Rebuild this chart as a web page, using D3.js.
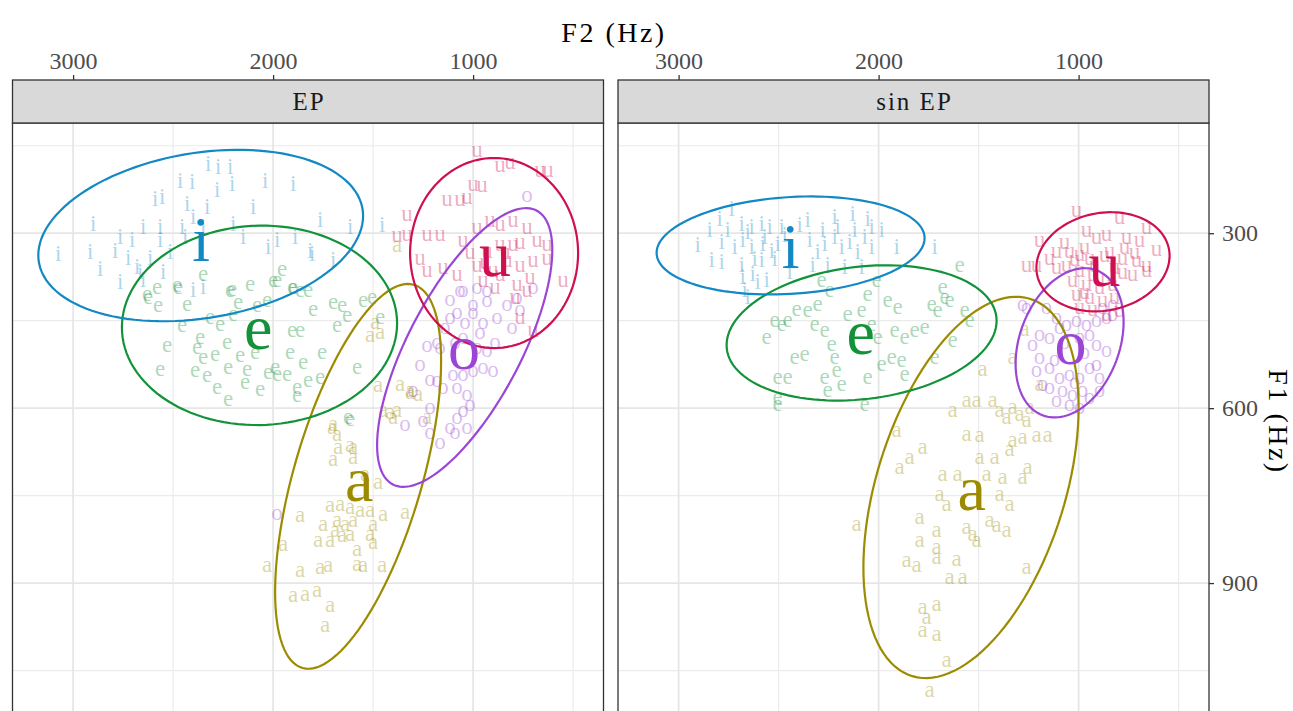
<!DOCTYPE html>
<html>
<head>
<meta charset="utf-8">
<script src="https://cdn.jsdelivr.net/npm/d3@7"></script>
<style>
  body { margin: 0; background: #fff; }
  text { font-family: "Liberation Serif", "Times New Roman", serif; }
</style>
</head>
<body>
<svg id="chart" width="1293" height="711"></svg>
<script>
'use strict';

// vowel order used by every array below: a, e, i, o, u
const vowels = ["a", "e", "i", "o", "u"];
const facets = ["EP", "sin EP"];
const f2Ticks = [3000, 2000, 1000];
const f1Ticks = [300, 600, 900];
const f2Minor = [2500, 1500, 500];
const f1Minor = [150, 450, 750, 1050];

// tokens, [F2, F1] in Hz -- EP
const epA = [[1705,636],[1675,670],[1615,667],[1700,691],[1600,687],[1540,717],[1475,730],[1715,770],[1665,768],[1615,773],
  [1565,778],[1515,778],[1865,787],[1750,802],[1680,795],[1640,802],[1600,795],[1690,812],[1615,819],[1500,802],
  [1450,785],[1340,782],[1775,830],[1715,830],[1655,821],[1515,819],[1500,833],[1950,836],[1580,845],[1765,876],
  [1725,873],[1865,881],[1580,871],[1550,873],[1455,873],[2030,873],[1900,924],[1840,922],[1780,915],[1715,941],
  [1740,975],[1415,610],[1380,607],[1315,576],[1475,564],[1515,478],[1465,473],[1490,456],[1315,573],[1365,562],
  [1275,579],[1450,607],[1400,619],[1230,619],[1700,631],[1680,648],[1600,670],[1380,324]];
const epE = [[2630,408],[2575,427],[2475,396],[2430,425],[2530,495],[2565,537],[2455,461],[2365,482],[2380,499],[2350,516],
  [2390,538],[2330,547],[2280,567],[2225,588],[2290,511],[2230,490],[2265,459],[2200,442],[2175,422],[2205,399],
  [2115,391],[2225,533],[2165,513],[2130,537],[2080,427],[2030,418],[2000,384],[1955,365],[1905,396],[1865,401],
  [1825,401],[2025,542],[1980,545],[1930,545],[1880,567],[1850,525],[1825,555],[1905,470],[1865,470],[1800,434],
  [1755,507],[1700,422],[1655,427],[1630,444],[1680,461],[1580,533],[1550,418],[1505,413],[1465,447],[2480,393],
  [2580,396],[2625,413],[2350,374],[2215,401],[1980,384],[1900,396],[1615,622],[1880,581],[1625,619],
  [2140,559],[2065,571],[1990,533],[2090,507],[1915,507],[1765,550],[2315,447]];
const epI = [[3075,339],[2915,336],[2900,288],[2790,333],[2865,365],[2725,345],[2705,315],[2680,362],[2650,293],[2590,245],
  [2555,242],[2565,293],[2565,315],[2550,370],[2650,384],[2465,213],[2405,216],[2430,254],[2400,276],[2455,293],
  [2330,259],[2280,230],[2325,185],[2275,190],[2215,190],[2205,219],[2350,293],[2200,288],[2150,310],[2100,259],
  [2040,213],[2025,327],[1900,219],[1980,315],[1890,310],[1805,339],[2350,396],[2400,401],[1455,290],[1615,293],
  [1765,281],[1815,333],[1700,350],[2765,310],[2615,345],[2515,336],[2440,310],[2665,370],[2765,387]];
const epO = [[1180,490],[1230,495],[1265,528],[1300,573],[1215,554],[1180,555],[1150,567],[1100,545],[1050,545],[1000,538],
  [950,533],[900,538],[1080,567],[1030,579],[1015,597],[1050,607],[1080,619],[1115,636],[1030,636],[1215,602],
  [1250,624],[1340,631],[1215,645],[1165,662],[1090,645],[980,499],[930,504],[1050,482],[1080,439],[1000,439],
  [950,456],[880,447],[930,418],[1115,417],[1050,401],[980,396],[830,425],[765,434],[700,396],[805,465],
  [730,238],[1065,401],[1000,425],[930,401],[1115,447],[1165,499],[780,413],[1980,783],
  [1140,465],[1040,456],[965,473],[1090,490],[890,490]];
const epU = [[980,161],[815,182],[665,195],[625,195],[865,187],[1000,219],[955,221],[1130,245],[1065,245],[1030,242],
  [1330,271],[1380,307],[1330,305],[1230,305],[1165,305],[1050,315],[980,293],[915,281],[865,288],[800,281],
  [730,293],[680,315],[630,322],[1265,345],[1230,367],[1150,362],[1080,374],[980,357],[900,367],[830,350],
  [765,357],[700,350],[630,345],[550,384],[780,391],[730,401],[950,384],[865,374],[700,470],[765,447],
  [865,322],[800,322],[930,333],[1015,336],[940,353],[840,336],[765,319],[715,379],[890,396],[790,413]];

// tokens, [F2, F1] in Hz -- sin EP
const sinA = [[1630,607],[1560,590],[1510,590],[1430,590],[1395,607],[1360,619],[1330,602],[1295,614],[1260,624],[1245,602],
  [1910,641],[1560,648],[1495,650],[1330,658],[1280,653],[1210,650],[1155,650],[1895,705],[1845,687],[1780,670],
  [1495,687],[1420,687],[1345,674],[1680,717],[1605,717],[1460,717],[1380,722],[1280,722],[1255,705],[1695,751],
  [1660,768],[1395,751],[1345,768],[1795,790],[1710,813],[1560,807],[1530,819],[1445,795],[1410,804],[1360,813],
  [1510,830],[1795,830],[1710,842],[1860,864],[1810,873],[1710,859],[1610,862],[1645,893],[1580,893],[1260,876],
  [2110,802],[1780,944],[1710,939],[1760,962],[1780,984],[1710,991],[1660,1035],[1745,1087],[1480,537],[1330,516],
  [1270,468],[1195,562]];
const sinE = [[2560,482],[2505,550],[2505,585],[2455,550],[2420,516],[2370,511],[2455,453],[2410,434],[2520,453],[2485,459],
  [2355,435],[2305,425],[2285,384],[2245,401],[2320,459],[2270,470],[2235,494],[2220,516],[2210,538],[2270,550],
  [2185,562],[2255,573],[2155,442],[2085,435],[2035,459],[2005,482],[2055,408],[2010,384],[1985,528],[2055,550],
  [2070,597],[1955,418],[1905,430],[1920,470],[1870,482],[1885,521],[1870,545],[1935,516],[1820,470],[1770,465],
  [1735,425],[1705,435],[1680,396],[1670,413],[1720,516],[2505,597],[1595,358],[1645,418],[1570,435],[1545,453],
  [1630,487]];
const sinI = [[2905,324],[2845,298],[2835,350],[2795,279],[2785,319],[2735,262],[2785,353],[2685,288],[2680,315],[2685,357],
  [2680,379],[2635,293],[2635,327],[2630,374],[2585,288],[2580,322],[2585,350],[2545,293],[2535,333],[2560,384],
  [2485,293],[2505,322],[2355,281],[2345,315],[2330,357],[2280,298],[2270,322],[2220,276],[2220,310],[2185,327],
  [2170,362],[2130,271],[2120,298],[2085,362],[2070,310],[2035,293],[1985,298],[2035,327],[1910,327],[1720,327],
  [2670,401],[2655,413],[2655,302],[2620,348],[2605,387],[2570,310],[2520,348],[2470,307],[2445,370],[2395,290],
  [2305,336],[2255,358],[2205,293],[2145,319],[2105,336],[2055,279],[2755,297],[2720,327]];
const sinO = [[1280,425],[1160,430],[1110,447],[1060,459],[1010,453],[960,459],[910,453],[860,447],[830,442],[1195,477],
  [1145,482],[995,482],[945,477],[910,494],[860,504],[1230,494],[1195,516],[1210,538],[1145,533],[1095,550],
  [1045,545],[995,550],[945,533],[910,528],[895,550],[1145,567],[1080,573],[1030,579],[980,573],[1110,590],
  [1045,597],[995,602],[895,573],[1180,562],[1260,430],[830,425],[880,430],
  [1070,490],[970,507],[1120,519],[1020,559],[945,585],[1095,465]];
const sinU = [[1010,264],[795,276],[660,293],[960,298],[910,310],[860,305],[760,310],[695,315],[610,331],[1195,315],
  [1110,333],[1045,333],[995,339],[945,345],[845,333],[780,345],[710,350],[660,357],[1260,358],[1210,358],
  [1110,362],[1060,357],[995,367],[930,374],[780,370],[730,374],[660,367],[1030,384],[960,391],[895,396],
  [830,391],[1010,408],[945,413],[880,418],[995,430],[930,434],[860,442],[795,435],
  [1070,319],[1020,348],[970,327],[920,358],[870,341],[820,362],[770,327],[895,379],[970,405],[820,413],
  [720,336],[1145,345]];

// vowel means (Hz), order a e i o u
const epMeanF2 = [1570, 2075, 2360, 1045, 890];
const epMeanF1 = [735, 475, 324, 509, 350];
const sinMeanF2 = [1535, 2090, 2440, 1040, 870];
const sinMeanF1 = [751, 483, 336, 500, 367];

// ellipses: centre, half range on each axis (Hz) and correlation, order a e i o u
const epEllF2 = [1575, 2068, 2362, 1042, 895];
const epEllF1 = [717, 458, 304, 496, 334];
const epEllHalfF2 = [415, 688, 812, 438, 420];
const epEllHalfF1 = [330, 171, 147, 239, 163];
const epEllR = [0.6, 0.02, 0.23, 0.7, 0];
const sinEllF2 = [1538, 2085, 2440, 1045, 878];
const sinEllF1 = [736, 471, 321, 488, 349];
const sinEllHalfF2 = [538, 675, 670, 270, 333];
const sinEllHalfF1 = [327, 116, 84, 128, 85];
const sinEllR = [0.42, 0.18, 0.15, 0.28, 0.12];

const colour = d3.scaleOrdinal()
    .domain(vowels)
    .range(["#9c8b00", "#12933a", "#1288c4", "#9b45d6", "#cf1050"]);

const panels = [
    { name: facets[0], tokens: [epA, epE, epI, epO, epU], meanF2: epMeanF2, meanF1: epMeanF1,
      ell: [epEllF2, epEllF1, epEllHalfF2, epEllHalfF1, epEllR] },
    { name: facets[1], tokens: [sinA, sinE, sinI, sinO, sinU], meanF2: sinMeanF2, meanF1: sinMeanF1,
      ell: [sinEllF2, sinEllF1, sinEllHalfF2, sinEllHalfF1, sinEllR] },
];

const panelW = 591;
const panelTop = 123;
const panelBottom = 758;
const stripTop = 80;
const panelX = [12.5, 618];

const x = d3.scaleLinear().domain([3303, 348]).range([0, panelW]);
const y = d3.scaleLinear().domain([111, 1200]).range([panelTop, panelBottom]);

const svg = d3.select("#chart");
svg.append("rect").attr("width", 1293).attr("height", 711).attr("fill", "#fff");

svg.append("defs").append("clipPath").attr("id", "panelClip")
    .append("rect").attr("x", 0).attr("y", panelTop).attr("width", panelW).attr("height", panelBottom - panelTop);

function ellipsePoints(c2, c1, h2, h1, r) {
    const pts = [];
    const s = Math.sqrt(1 - r * r);
    for (let k = 0; k < 120; k++) {
        const t = k / 120 * 2 * Math.PI;
        pts.push([c2 + h2 * Math.cos(t), c1 + h1 * (r * Math.cos(t) + s * Math.sin(t))]);
    }
    return pts;
}

const ellLine = d3.line().x(d => x(d[0])).y(d => y(d[1])).curve(d3.curveLinearClosed);

panels.forEach((p, pi) => {
    const g = svg.append("g").attr("transform", `translate(${panelX[pi]},0)`);

    // grid
    const grid = g.append("g");
    grid.selectAll(".vminor").data(f2Minor).join("line")
        .attr("x1", d => x(d)).attr("x2", d => x(d)).attr("y1", panelTop).attr("y2", panelBottom)
        .attr("stroke", "#ebebeb").attr("stroke-width", 1.2);
    grid.selectAll(".hminor").data(f1Minor).join("line")
        .attr("y1", d => y(d)).attr("y2", d => y(d)).attr("x1", 0).attr("x2", panelW)
        .attr("stroke", "#ebebeb").attr("stroke-width", 1.2);
    grid.selectAll(".vmajor").data(f2Ticks).join("line")
        .attr("x1", d => x(d)).attr("x2", d => x(d)).attr("y1", panelTop).attr("y2", panelBottom)
        .attr("stroke", "#e6e6e6").attr("stroke-width", 1.8);
    grid.selectAll(".hmajor").data(f1Ticks).join("line")
        .attr("y1", d => y(d)).attr("y2", d => y(d)).attr("x1", 0).attr("x2", panelW)
        .attr("stroke", "#e6e6e6").attr("stroke-width", 1.8);

    const inner = g.append("g").attr("clip-path", "url(#panelClip)");

    // tokens
    vowels.forEach((v, vi) => {
        inner.append("g").selectAll("text").data(p.tokens[vi]).join("text")
            .attr("x", d => x(d[0])).attr("y", d => y(d[1]))
            .attr("dy", "0.22em")
            .attr("text-anchor", "middle")
            .attr("font-size", 23)
            .attr("fill", colour(v))
            .attr("fill-opacity", 0.36)
            .text(v);
    });

    // ellipses
    vowels.forEach((v, vi) => {
        const e = p.ell;
        inner.append("path")
            .attr("d", ellLine(ellipsePoints(e[0][vi], e[1][vi], e[2][vi], e[3][vi], e[4][vi])))
            .attr("fill", "none")
            .attr("stroke", colour(v))
            .attr("stroke-width", 2.2);
    });

    // means
    inner.append("g").selectAll("text").data(vowels).join("text")
        .attr("x", (d, i) => x(p.meanF2[i])).attr("y", (d, i) => y(p.meanF1[i]))
        .attr("dy", "0.22em")
        .attr("text-anchor", "middle")
        .attr("font-size", 64)
        .attr("fill", d => colour(d))
        .text(d => d);

    // panel border
    g.append("rect").attr("x", 0).attr("y", panelTop).attr("width", panelW).attr("height", panelBottom - panelTop)
        .attr("fill", "none").attr("stroke", "#333").attr("stroke-width", 1.3);

    // strip
    g.append("rect").attr("x", 0).attr("y", stripTop).attr("width", panelW).attr("height", panelTop - stripTop)
        .attr("fill", "#d9d9d9").attr("stroke", "#333").attr("stroke-width", 1.3);
    g.append("text").attr("x", panelW / 2 + 1).attr("y", (stripTop + panelTop) / 2)
        .attr("dy", "0.34em").attr("text-anchor", "middle")
        .attr("font-size", 25).attr("letter-spacing", 2)
        .attr("fill", "#1a1a1a").text(p.name);

    // top axis
    const ax = g.append("g").attr("transform", `translate(0,${stripTop})`)
        .call(d3.axisTop(x).tickValues(f2Ticks).tickFormat(d3.format("d")).tickSize(5).tickPadding(6));
    ax.select(".domain").remove();
    ax.selectAll("line").attr("stroke", "#333").attr("stroke-width", 1.3);
    ax.selectAll("text").attr("font-size", 24).attr("fill", "#4d4d4d").attr("font-family", null);

    if (pi === 1) {
        const ay = g.append("g").attr("transform", `translate(${panelW},0)`)
            .call(d3.axisRight(y).tickValues(f1Ticks).tickFormat(d3.format("d")).tickSize(5).tickPadding(8));
        ay.select(".domain").remove();
        ay.selectAll("line").attr("stroke", "#333").attr("stroke-width", 1.3);
        ay.selectAll("text").attr("font-size", 24).attr("fill", "#4d4d4d").attr("font-family", null);
    }
});

// axis titles
svg.append("text").attr("x", 614).attr("y", 42).attr("text-anchor", "middle")
    .attr("font-size", 28).attr("letter-spacing", 2.5).attr("fill", "#000").text("F2 (Hz)");
svg.append("text").attr("transform", "translate(1269,422) rotate(90)").attr("text-anchor", "middle")
    .attr("font-size", 28).attr("letter-spacing", 2.5).attr("fill", "#000").text("F1 (Hz)");
</script>
</body>
</html>
